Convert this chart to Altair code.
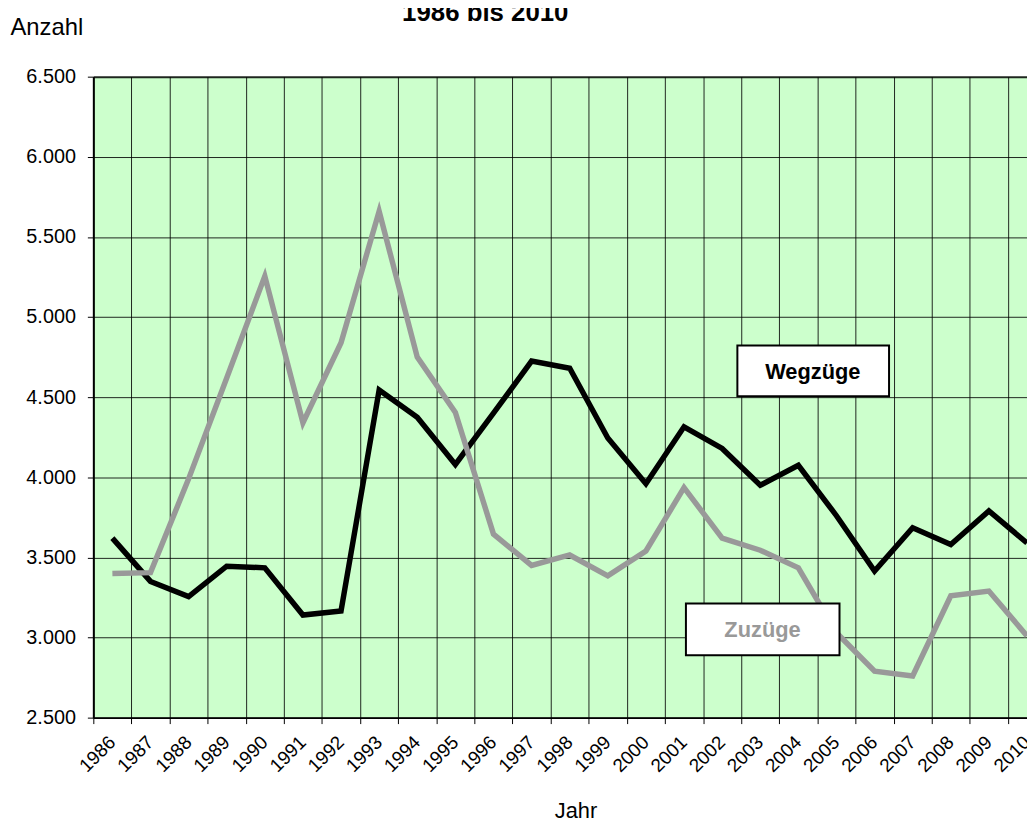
import altair as alt
import pandas as pd

years = list(range(1986, 2011))
wegzuege = [3620, 3350, 3255, 3445, 3435, 3140, 3165, 4545, 4375, 4080,
            4400, 4725, 4680, 4245, 3960, 4315, 4180, 3950, 4075, 3760,
            3415, 3685, 3580, 3790, 3590]
zuzuege = [3400, 3405, 3990, 4620, 5255, 4340, 4840, 5660, 4750, 4405,
           3645, 3450, 3515, 3385, 3540, 3935, 3620, 3545, 3435, 3030,
           2790, 2760, 3260, 3290, 3010]
series_names = ["Wegzüge", "Zuzüge"]
series_colors = ["#000000", "#999999"]
y_ticks = list(range(2500, 6501, 500))

# annotation boxes (data units)
box_labels = ["Wegzüge", "Zuzüge"]
box_x1 = [2002.40, 2001.05]
box_x2 = [2006.38, 2005.08]
box_y1 = [4822, 3212]
box_y2 = [4506, 2890]
box_tx = [2004.38, 2003.06]
box_ty = [4655, 3045]

FONT = "Liberation Sans"

rows = []
for y, w, z in zip(years, wegzuege, zuzuege):
    rows.append({"Jahr": y, "Wert": w, "Serie": "Wegzüge"})
    rows.append({"Jahr": y, "Wert": z, "Serie": "Zuzüge"})
df = pd.DataFrame(rows)

boxes = pd.DataFrame({"Label": box_labels, "Jahr": box_x1, "Jahr2": box_x2,
                      "Wert": box_y1, "Wert2": box_y2, "tx": box_tx, "ty": box_ty})

year_labels = pd.DataFrame({"Jahr": years, "label": [str(y) for y in years]})

xscale = alt.Scale(domain=[1985.5, 2010.0], nice=False, zero=False)
yscale = alt.Scale(domain=[2500, 6500], nice=False, zero=False)

boundaries = [y - 0.5 for y in years]

x_axis = alt.Axis(
    values=boundaries,
    tickCount=500,
    labels=False,
    grid=True,
    gridColor="#000000",
    gridWidth=1,
    gridOpacity=0.85,
    ticks=True,
    tickSize=6,
    tickColor="#000000",
    domain=True,
    domainColor="#000000",
    domainWidth=2,
    title="Jahr",
    titleFontSize=22,
    titleFontWeight="normal",
    titleColor="#000000",
    titleX=486,
    titleY=101,
    titleAlign="center",
    titleBaseline="alphabetic",
)

y_axis = alt.Axis(
    values=y_ticks,
    tickCount=50,
    labelExpr="replace(format(datum.value, ','), ',', '.')",
    labelFontSize=20,
    labelColor="#000000",
    labelPadding=12,
    grid=True,
    gridColor="#000000",
    gridOpacity=0.85,
    gridWidth={"condition": {"test": "datum.value == 6500", "value": 2}, "value": 1},
    ticks=True,
    tickSize=6,
    tickColor="#000000",
    domain=True,
    domainColor="#000000",
    domainWidth=2,
    title="Anzahl",
    titleAngle=0,
    titleFontSize=24,
    titleFontWeight="normal",
    titleColor="#000000",
    titleX=-84,
    titleY=-42,
    titleAlign="left",
    titleBaseline="alphabetic",
)

lines = alt.Chart(df).mark_line(strokeWidth=5.5, strokeJoin="miter").encode(
    x=alt.X("Jahr:Q", scale=xscale, axis=x_axis),
    y=alt.Y("Wert:Q", scale=yscale, axis=y_axis),
    color=alt.Color("Serie:N", scale=alt.Scale(domain=series_names, range=series_colors), legend=None),
    order=alt.Order("Jahr:Q"),
)

xlabels = alt.Chart(year_labels).mark_text(
    fontSize=19, font=FONT, angle=315, align="right", baseline="middle", color="#000000"
).encode(
    x=alt.X("Jahr:Q", scale=xscale),
    y=alt.value(668),
    text="label:N",
)

rects = alt.Chart(boxes).mark_rect(fill="white", stroke="black", strokeWidth=2).encode(
    x=alt.X("Jahr:Q", scale=xscale),
    x2="Jahr2:Q",
    y=alt.Y("Wert:Q", scale=yscale),
    y2="Wert2:Q",
)

texts = alt.Chart(boxes).mark_text(fontSize=22, fontWeight="bold", font=FONT, baseline="middle").encode(
    x=alt.X("tx:Q", scale=xscale),
    y=alt.Y("ty:Q", scale=yscale),
    text="Label:N",
    color=alt.Color("Label:N", scale=alt.Scale(domain=series_names, range=series_colors), legend=None),
)

title_df = pd.DataFrame({"t": ["1986 bis 2010"]})
title = alt.Chart(title_df).mark_text(fontSize=26, fontWeight="bold", font=FONT,
                                      baseline="alphabetic", align="center", color="#000000").encode(
    x=alt.value(395),
    y=alt.value(-56),
    text="t:N",
)

chart = alt.layer(lines, xlabels, rects, texts, title).properties(
    width=941,
    height=646,
    autosize=alt.AutoSizeParams(type="none"),
    padding={"left": 86, "top": 66, "right": 0, "bottom": 104},
    background="white",
).configure(
    font=FONT
).configure_view(
    fill="#CCFFCC", stroke=None
)

chart.save("out.html", embed_options={"renderer": "svg", "actions": False})
